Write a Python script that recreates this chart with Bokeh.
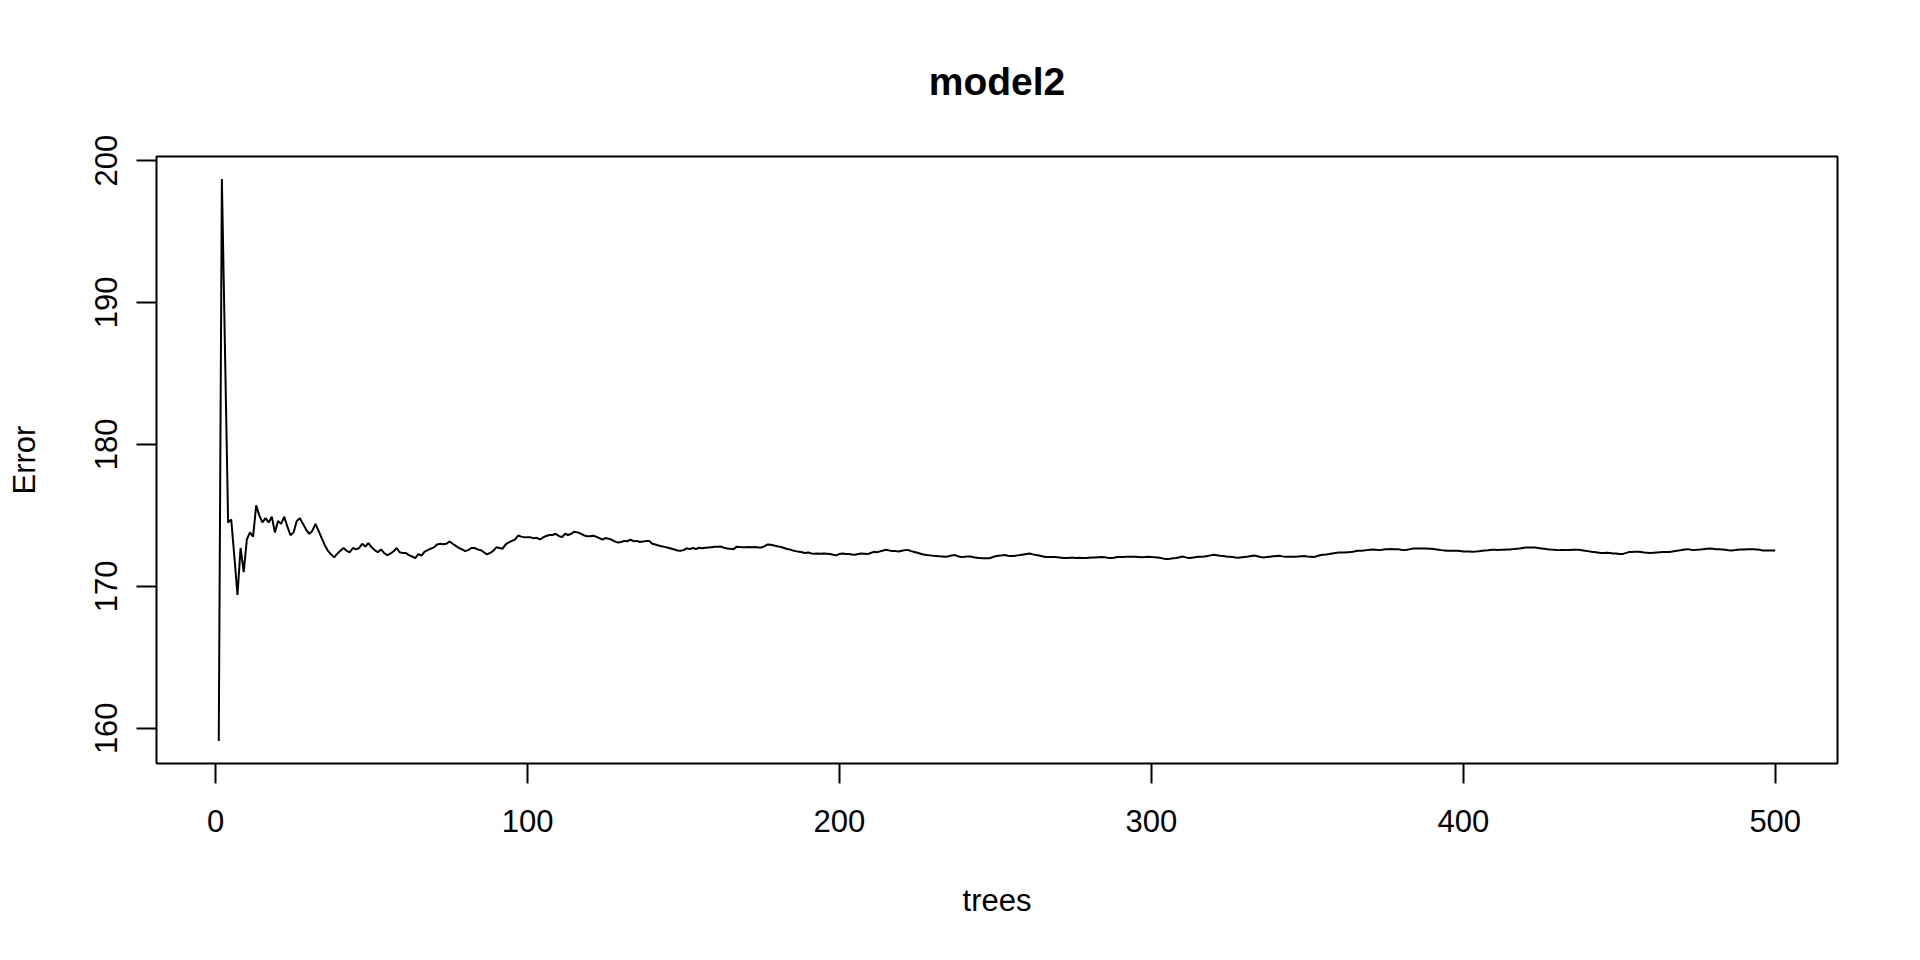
from bokeh.plotting import figure
from bokeh.models import Range1d, FixedTicker, Title
from bokeh.embed import file_html
from bokeh.resources import INLINE

# Out-of-bag error (MSE) per number of trees
error_1_60 = [
    159.1, 198.7, 186.6, 174.5, 174.7, 172.1, 169.4, 172.7, 171.0, 173.3,
    173.8, 173.5, 175.7, 175.0, 174.5, 174.8, 174.5, 174.9, 173.8, 174.6,
    174.4, 174.9, 174.2, 173.6, 173.8, 174.6, 174.8, 174.4, 174.0, 173.7,
    173.9, 174.4, 173.9, 173.4, 172.9, 172.5, 172.25, 172.04, 172.3, 172.5,
    172.7, 172.5, 172.4, 172.7, 172.6, 172.7, 173.0, 172.8, 173.05, 172.75,
    172.55, 172.4, 172.6, 172.35, 172.2, 172.3, 172.45, 172.7, 172.4, 172.35,
]
error_61_140 = [
    172.34, 172.2, 172.1, 171.99, 172.27, 172.17, 172.45, 172.55, 172.65, 172.75,
    172.95, 173.0, 172.97, 173.0, 173.16, 173.0, 172.85, 172.7, 172.6, 172.48,
    172.55, 172.7, 172.7, 172.6, 172.55, 172.4, 172.25, 172.35, 172.5, 172.75,
    172.7, 172.65, 172.95, 173.1, 173.2, 173.3, 173.58, 173.5, 173.45, 173.45,
    173.45, 173.38, 173.42, 173.3, 173.45, 173.55, 173.62, 173.62, 173.7, 173.56,
    173.46, 173.7, 173.62, 173.7, 173.85, 173.8, 173.72, 173.6, 173.53, 173.52,
    173.56, 173.5, 173.4, 173.3, 173.4, 173.35, 173.28, 173.16, 173.08, 173.12,
    173.2, 173.18, 173.28, 173.18, 173.2, 173.12, 173.15, 173.2, 173.2, 173.0,
]
error_141_220 = [
    172.95, 172.87, 172.82, 172.78, 172.72, 172.66, 172.6, 172.52, 172.5, 172.55,
    172.68, 172.62, 172.7, 172.63, 172.72, 172.68, 172.72, 172.74, 172.76, 172.78,
    172.78, 172.8, 172.72, 172.67, 172.64, 172.62, 172.78, 172.77, 172.75, 172.76,
    172.77, 172.76, 172.77, 172.74, 172.73, 172.83, 172.95, 172.93, 172.88, 172.83,
    172.79, 172.72, 172.65, 172.6, 172.53, 172.48, 172.44, 172.4, 172.35, 172.38,
    172.32, 172.29, 172.31, 172.3, 172.31, 172.29, 172.27, 172.22, 172.18, 172.28,
    172.31, 172.28, 172.27, 172.24, 172.22, 172.27, 172.31, 172.3, 172.27, 172.35,
    172.43, 172.4, 172.46, 172.52, 172.57, 172.52, 172.48, 172.48, 172.45, 172.5,
]
error_221_300 = [
    172.55, 172.56, 172.48, 172.42, 172.36, 172.3, 172.24, 172.2, 172.18, 172.15,
    172.13, 172.11, 172.1, 172.08, 172.12, 172.18, 172.2, 172.12, 172.07, 172.08,
    172.1, 172.1, 172.05, 172.02, 171.99, 171.98, 171.97, 171.97, 172.05, 172.12,
    172.16, 172.18, 172.2, 172.16, 172.13, 172.14, 172.18, 172.2, 172.24, 172.28,
    172.31, 172.25, 172.2, 172.17, 172.12, 172.07, 172.06, 172.07, 172.06, 172.04,
    172.02, 171.99, 172.0, 172.02, 172.01, 172.0, 172.01, 171.99, 171.99, 172.01,
    172.03, 172.03, 172.05, 172.06, 172.04, 172.01, 171.99, 172.02, 172.06, 172.06,
    172.07, 172.08, 172.08, 172.09, 172.08, 172.06, 172.04, 172.06, 172.08, 172.07,
]
error_301_380 = [
    172.05, 172.03, 171.99, 171.95, 171.92, 171.94, 171.97, 171.99, 172.05, 172.1,
    172.04, 171.99, 172.02, 172.05, 172.08, 172.09, 172.1, 172.14, 172.18, 172.22,
    172.19, 172.15, 172.13, 172.1, 172.08, 172.06, 172.03, 172.01, 172.04, 172.07,
    172.1, 172.14, 172.17, 172.12, 172.07, 172.03, 172.06, 172.09, 172.12, 172.14,
    172.15, 172.11, 172.08, 172.08, 172.08, 172.09, 172.1, 172.12, 172.13, 172.1,
    172.08, 172.06, 172.12, 172.19, 172.22, 172.24, 172.27, 172.31, 172.35, 172.38,
    172.38, 172.38, 172.4, 172.41, 172.45, 172.5, 172.51, 172.52, 172.55, 172.58,
    172.59, 172.57, 172.55, 172.58, 172.62, 172.62, 172.63, 172.62, 172.62, 172.58,
]
error_381_460 = [
    172.55, 172.58, 172.62, 172.66, 172.66, 172.66, 172.66, 172.66, 172.65, 172.64,
    172.61, 172.58, 172.55, 172.53, 172.5, 172.5, 172.51, 172.5, 172.48, 172.46,
    172.45, 172.45, 172.44, 172.45, 172.47, 172.5, 172.52, 172.54, 172.57, 172.57,
    172.56, 172.57, 172.58, 172.59, 172.59, 172.62, 172.65, 172.67, 172.7, 172.73,
    172.73, 172.73, 172.73, 172.7, 172.67, 172.64, 172.61, 172.59, 172.58, 172.56,
    172.55, 172.55, 172.55, 172.56, 172.57, 172.57, 172.57, 172.54, 172.51, 172.48,
    172.44, 172.41, 172.38, 172.35, 172.35, 172.36, 172.35, 172.32, 172.31, 172.28,
    172.27, 172.34, 172.41, 172.42, 172.43, 172.44, 172.42, 172.38, 172.36, 172.34,
]
error_461_500 = [
    172.36, 172.38, 172.4, 172.41, 172.42, 172.42, 172.45, 172.49, 172.52, 172.56,
    172.6, 172.62, 172.58, 172.55, 172.57, 172.59, 172.62, 172.64, 172.66, 172.64,
    172.62, 172.61, 172.6, 172.57, 172.54, 172.52, 172.55, 172.58, 172.59, 172.6,
    172.61, 172.62, 172.61, 172.6, 172.57, 172.53, 172.52, 172.52, 172.52, 172.52,
]

errors = (error_1_60 + error_61_140 + error_141_220 + error_221_300
          + error_301_380 + error_381_460 + error_461_500)
trees = list(range(1, len(errors) + 1))

x_ticks = [0, 100, 200, 300, 400, 500]
y_ticks = [160, 170, 180, 190, 200]

title_text = "model2"
x_label = "trees"
y_label = "Error"

FONT = "Liberation Sans"


def padded(lo, hi, frac=0.04):
    d = (hi - lo) * frac
    return lo - d, hi + d


xlo, xhi = padded(min(trees), max(trees))
ylo, yhi = padded(min(errors), max(errors))

p = figure(
    width=1904, height=944,
    output_backend="svg", toolbar_location=None,
    x_range=Range1d(xlo, xhi), y_range=Range1d(ylo, yhi),
    min_border_left=156, min_border_right=67,
    min_border_top=156, min_border_bottom=181,
    background_fill_color="white", border_fill_color="white",
)
p.title = None
t = Title(text=title_text, align="center", text_font=FONT,
          text_font_size="39px", text_font_style="bold",
          text_color="black", standoff=108)
p.add_layout(t, "above")

p.line(trees, errors, line_color="black", line_width=2)

p.outline_line_color = "black"
p.outline_line_width = 2
p.xgrid.visible = False
p.ygrid.visible = False

for ax in (p.xaxis[0], p.yaxis[0]):
    ax.axis_line_color = None
    ax.major_tick_line_color = "black"
    ax.major_tick_line_width = 2
    ax.major_tick_out = 20
    ax.major_tick_in = 0
    ax.minor_tick_line_color = None
    ax.major_label_text_font = FONT
    ax.major_label_text_font_size = "31px"
    ax.major_label_text_color = "black"
    ax.axis_label_text_font = FONT
    ax.axis_label_text_font_size = "31px"
    ax.axis_label_text_font_style = "normal"
    ax.axis_label_text_color = "black"

p.xaxis[0].ticker = FixedTicker(ticks=x_ticks)
p.yaxis[0].ticker = FixedTicker(ticks=y_ticks)
p.xaxis[0].axis_label = x_label
p.yaxis[0].axis_label = y_label
p.xaxis[0].major_label_standoff = 26
p.xaxis[0].axis_label_standoff = 48
p.yaxis[0].major_label_orientation = "vertical"
p.yaxis[0].major_label_standoff = 19
p.yaxis[0].axis_label_standoff = 51

open("out.html", "w").write(file_html(p, INLINE))
